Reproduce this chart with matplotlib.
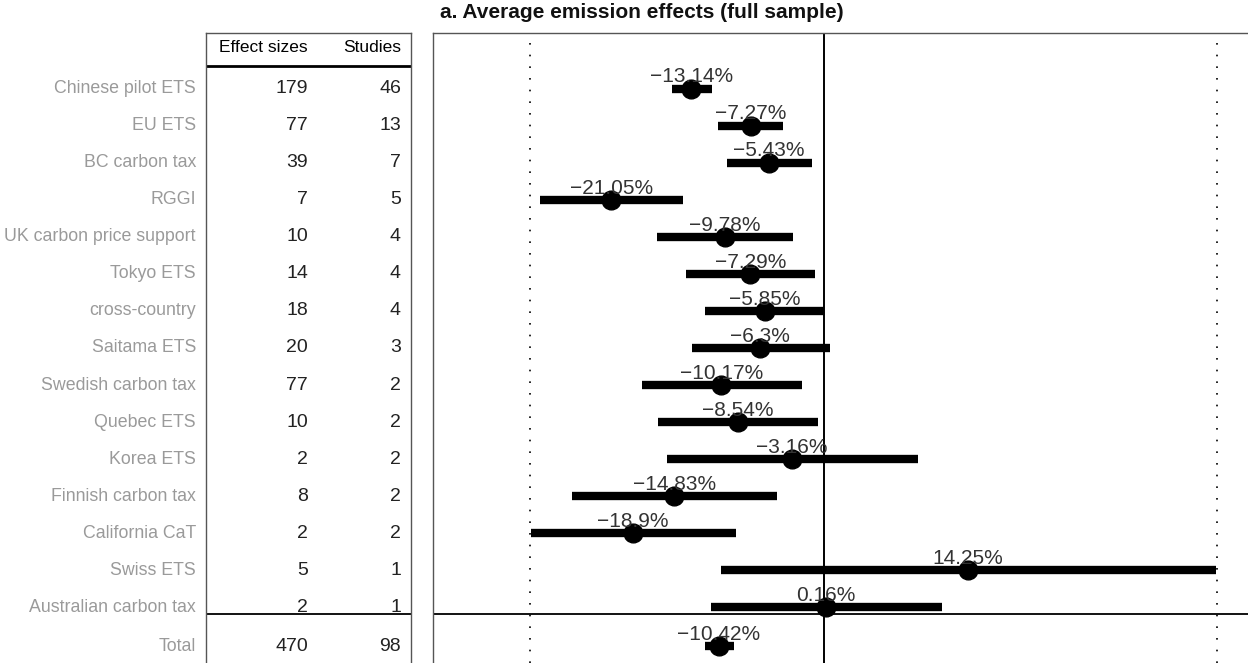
import matplotlib
matplotlib.use("Agg")
import matplotlib.pyplot as plt
import matplotlib.transforms as mtransforms

plt.rcParams['font.family'] = ['Liberation Sans', 'DejaVu Sans']

programs = ["Chinese pilot ETS", "EU ETS", "BC carbon tax", "RGGI",
            "UK carbon price support", "Tokyo ETS", "cross-country",
            "Saitama ETS", "Swedish carbon tax", "Quebec ETS", "Korea ETS",
            "Finnish carbon tax", "California CaT", "Swiss ETS",
            "Australian carbon tax"]
effect_sizes = [179, 77, 39, 7, 10, 14, 18, 20, 77, 10, 2, 8, 2, 5, 2]
studies = [46, 13, 7, 5, 4, 4, 4, 3, 2, 2, 2, 2, 2, 1, 1]
# average effect (%) with confidence bounds
estimate = [-13.14, -7.27, -5.43, -21.05, -9.78, -7.29, -5.85, -6.3,
            -10.17, -8.54, -3.16, -14.83, -18.9, 14.25, 0.16]
ci_low = [-15.05, -10.5, -9.6, -28.1, -16.5, -13.66, -11.78, -13.07,
          -18.0, -16.4, -15.5, -24.95, -29.0, -10.2, -11.2]
ci_high = [-11.09, -4.06, -1.19, -13.96, -3.07, -0.89, 0.0, 0.59,
           -2.18, -0.59, 9.3, -4.65, -8.7, 38.8, 11.7]

total_effect_sizes = 470
total_studies = 98
total_estimate = -10.42
total_low = -11.8
total_high = -8.9

ref_lines = [-29.1, 38.9]

W, H = 1248, 663
fig = plt.figure(figsize=(W / 100, H / 100), dpi=100)

top_px = 33
ax_h = (H - top_px) / H
tab = fig.add_axes([206 / W, 0, (411 - 206) / W, ax_h])
ax = fig.add_axes([433 / W, 0, (1262 - 433) / W, ax_h])

n = len(programs)
total_row = n + 0.05
sep_row = n - 0.81
ylim = (15.5, -1.5)

for a in (tab, ax):
    a.set_ylim(*ylim)
    a.set_xticks([])
    a.set_yticks([])
    a.spines['bottom'].set_visible(False)
    for s in ('left', 'right', 'top'):
        a.spines[s].set_color('#555555')
        a.spines[s].set_linewidth(1.0)
    a.axhline(sep_row, color='black', lw=1.3, zorder=1)
ax.spines['right'].set_visible(False)

# table side
tab.set_xlim(0, 1)
tr = mtransforms.blended_transform_factory(tab.transAxes, tab.transData)
col_es = (308 - 206) / 205
col_st = (401 - 206) / 205
lab_x = (196 - 206) / 205
tab.text(col_es, -1.1, "Effect sizes", ha='right', va='center',
         fontsize=12.5, color='black', transform=tr)
tab.text(col_st, -1.1, "Studies", ha='right', va='center',
         fontsize=12.5, color='black', transform=tr)
tab.axhline(-0.62, color='black', lw=2, zorder=1)

for i, name in enumerate(programs):
    tab.text(lab_x, i, name, ha='right', va='center', fontsize=12.8,
             color='#9a9a9a', transform=tr, clip_on=False)
    tab.text(col_es, i, str(effect_sizes[i]), ha='right', va='center',
             fontsize=14, color='#222222', transform=tr)
    tab.text(col_st, i, str(studies[i]), ha='right', va='center',
             fontsize=14, color='#222222', transform=tr)
tab.text(lab_x, total_row, "Total", ha='right', va='center', fontsize=12.8,
         color='#9a9a9a', transform=tr, clip_on=False)
tab.text(col_es, total_row, str(total_effect_sizes), ha='right', va='center',
         fontsize=14, color='#222222', transform=tr)
tab.text(col_st, total_row, str(total_studies), ha='right', va='center',
         fontsize=14, color='#222222', transform=tr)

# forest plot side
px_per_pct = 10.1
ax.set_xlim((433 - 824) / px_per_pct, (1262 - 824) / px_per_pct)
ax.axvline(0, color='black', lw=1.4, zorder=2)
for r in ref_lines:
    ax.axvline(r, color='black', lw=1.2, linestyle=(0, (1, 6)), zorder=1)


def pct_label(v):
    return "{:g}%".format(v).replace("-", "\u2212")


rows = list(range(n)) + [total_row]
est = estimate + [total_estimate]
lo = ci_low + [total_low]
hi = ci_high + [total_high]
for y, e, l, h in zip(rows, est, lo, hi):
    ax.plot([l, h], [y, y], color='black', lw=6, solid_capstyle='butt',
            zorder=3)
    ax.plot(e, y, 'o', color='black', ms=13.5, zorder=4)
    ax.annotate(pct_label(e), (e, y), xytext=(0, 4.5),
                textcoords='offset points', ha='center', va='baseline',
                fontsize=15, color='#333333', zorder=5)

fig.text(440 / W, 1 - 13 / H, "a. Average emission effects (full sample)",
         ha='left', va='center', fontsize=15, fontweight='bold',
         color='#111111')

fig.savefig("out.png", dpi=100)
